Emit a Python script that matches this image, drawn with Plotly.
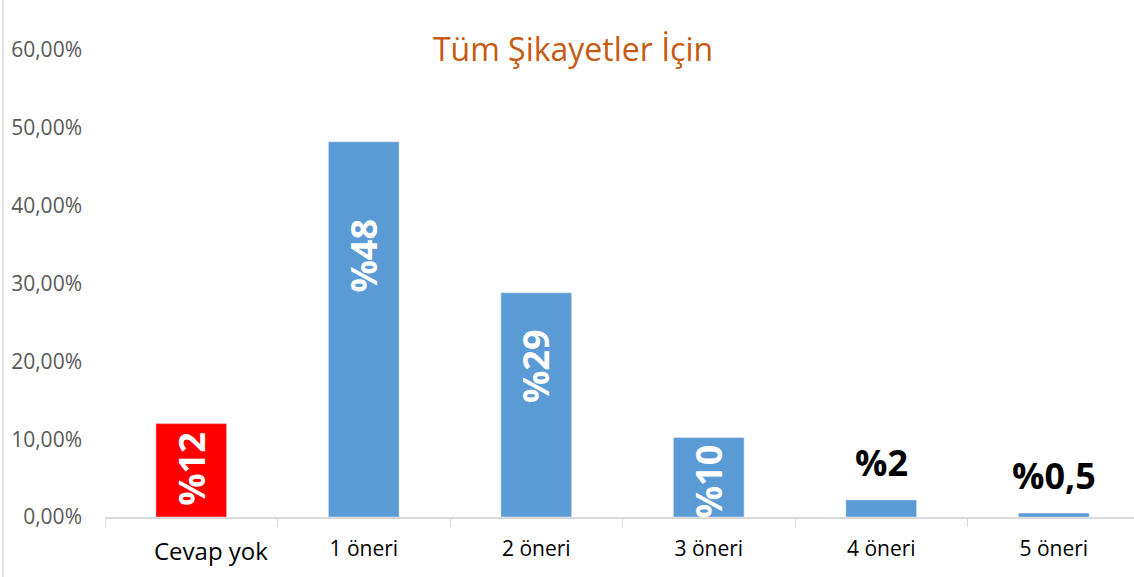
import plotly.graph_objects as go

categories = ["Cevap yok", "1 öneri", "2 öneri", "3 öneri", "4 öneri", "5 öneri"]
values = [12.0, 48.2, 28.8, 10.2, 2.2, 0.5]
labels = ["%12", "%48", "%29", "%10", "%2", "%0,5"]
colors = ["#FF0000", "#5B9BD5", "#5B9BD5", "#5B9BD5", "#5B9BD5", "#5B9BD5"]
ytick_vals = [0, 10, 20, 30, 40, 50, 60]
ytick_text = ["0,00%", "10,00%", "20,00%", "30,00%", "40,00%", "50,00%", "60,00%"]
xtick_text = ["", "1 öneri", "2 öneri", "3 öneri", "4 öneri", "5 öneri"]

# style: pixel gap between bar top and the start of each inside label
inside_label_gap = [6, 75, 34, 5]

FONT = "Open Sans"
W, H = 1140, 577
ml, mr, mt, mb = 105, 0, 50, 60

fig = go.Figure()
fig.add_trace(go.Bar(
    x=categories, y=values, marker_color=colors, width=0.41,
    showlegend=False, hoverinfo="skip",
))
for c, v, t, g in zip(categories[:4], values[:4], labels[:4], inside_label_gap):
    fig.add_annotation(x=c, y=v, text=t, showarrow=False, textangle=-90,
                       xanchor="center", yanchor="top", yshift=-g,
                       font=dict(family=FONT, size=36, color="white", weight="bold"))
for c, v, t in zip(categories[4:], values[4:], labels[4:]):
    fig.add_annotation(x=c, y=v, text=t, showarrow=False, yanchor="bottom", yshift=11,
                       font=dict(family=FONT, size=36, color="black", weight="bold"))
# first category label (larger and offset right, as in the original)
fig.add_annotation(x=categories[0], y=0, text=categories[0], showarrow=False,
                   yanchor="top", yshift=-15, xshift=20,
                   font=dict(family=FONT, size=24, color="black"))

pw = W - ml - mr
ph = H - mt - mb
fig.add_shape(type="line", xref="paper", yref="paper",
              x0=(3 - ml) / pw, x1=(3 - ml) / pw,
              y0=-mb / ph, y1=1 + mt / ph,
              line=dict(color="#D9D9D9", width=1.5))

fig.update_layout(
    width=W, height=H,
    margin=dict(l=ml, r=mr, t=mt, b=mb, autoexpand=False),
    plot_bgcolor="white", paper_bgcolor="white",
    title=dict(text="Tüm Şikayetler İçin", x=573 / W, xanchor="center",
               y=1 - 50 / H, yanchor="middle",
               font=dict(family=FONT, size=32, color="#C55A11")),
    font=dict(family=FONT),
)
fig.update_xaxes(
    tickvals=categories, ticktext=xtick_text, automargin=False,
    tickfont=dict(family=FONT, size=21, color="black"),
    showline=True, linecolor="#D9D9D9", linewidth=1.5,
    ticks="outside", tickson="boundaries", ticklen=8, tickcolor="#D9D9D9",
    showgrid=False, ticklabelstandoff=12,
)
fig.update_yaxes(
    range=[0, 60], tickvals=ytick_vals, ticktext=ytick_text, automargin=False,
    tickfont=dict(family=FONT, size=21, color="#595959"),
    showgrid=False, showline=False, zeroline=False, ticklabelstandoff=22,
)

fig.write_html("out.html", config={"displayModeBar": False},
               post_script="document.body.style.margin='0px';document.body.style.overflow='hidden';")
